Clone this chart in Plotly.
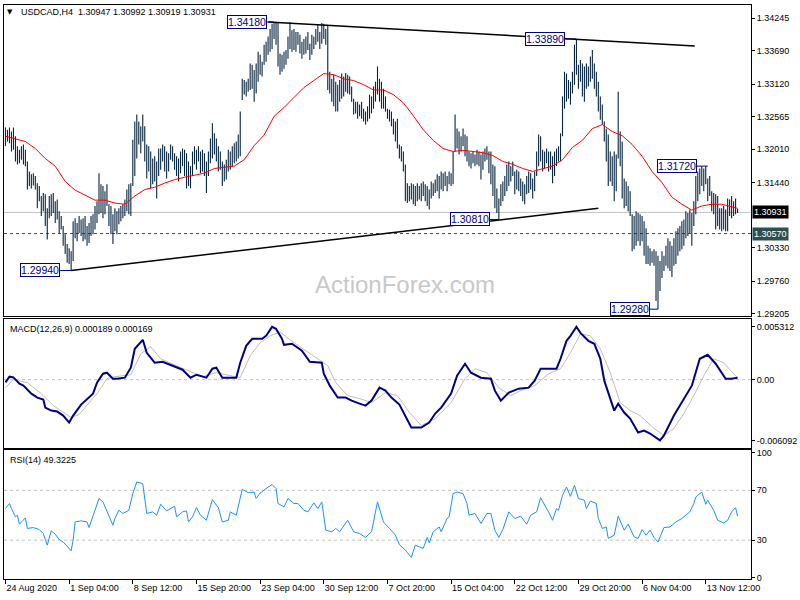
import plotly.graph_objects as go

# ---------------- data ----------------
highs = [
1.3238,1.3234,1.3238,1.3231,1.3238,1.3223,1.3206,1.3200,1.3206,1.3209,
1.3200,1.3180,1.3163,1.3158,1.3160,1.3155,1.3143,1.3138,1.3121,1.3126,
1.3124,1.3100,1.3121,1.3124,1.3126,1.3112,1.3115,1.3095,1.3087,1.3070,
1.3056,1.3039,1.3032,1.3027,1.3078,1.3083,1.3075,1.3087,1.3081,1.3083,
1.3087,1.3070,1.3075,1.3087,1.3090,1.3104,1.3112,1.3160,1.3141,1.3138,
1.3129,1.3141,1.3107,1.3104,1.3090,1.3100,1.3095,1.3100,1.3104,1.3107,
1.3115,1.3132,1.3141,1.3143,1.3217,1.3248,1.3260,1.3248,1.3240,1.3260,
1.3240,1.3209,1.3206,1.3197,1.3185,1.3189,1.3180,1.3202,1.3202,1.3209,
1.3206,1.3197,1.3194,1.3209,1.3206,1.3194,1.3189,1.3185,1.3197,1.3202,
1.3200,1.3194,1.3180,1.3172,1.3197,1.3206,1.3200,1.3206,1.3197,1.3200,
1.3194,1.3180,1.3197,1.3219,1.3245,1.3228,1.3219,1.3206,1.3197,1.3180,
1.3175,1.3183,1.3200,1.3197,1.3206,1.3211,1.3214,1.3226,1.3265,1.3321,
1.3319,1.3316,1.3321,1.3347,1.3345,1.3336,1.3347,1.3367,1.3362,1.3350,
1.3379,1.3384,1.3393,1.3406,1.3415,1.3418,1.3416,1.3416,1.3364,1.3362,
1.3367,1.3370,1.3393,1.3418,1.3404,1.3406,1.3401,1.3401,1.3396,1.3384,
1.3389,1.3393,1.3401,1.3381,1.3396,1.3393,1.3406,1.3413,1.3401,1.3416,
1.3415,1.3406,1.3413,1.3333,1.3321,1.3328,1.3316,1.3311,1.3319,1.3330,
1.3325,1.3331,1.3328,1.3325,1.3308,1.3287,1.3282,1.3282,1.3277,1.3282,
1.3270,1.3265,1.3274,1.3294,1.3291,1.3308,1.3316,1.3342,1.3321,1.3316,
1.3304,1.3291,1.3270,1.3268,1.3265,1.3253,1.3248,1.3253,1.3209,1.3206,
1.3197,1.3175,1.3143,1.3138,1.3143,1.3141,1.3138,1.3143,1.3138,1.3143,
1.3146,1.3141,1.3138,1.3132,1.3146,1.3143,1.3149,1.3158,1.3155,1.3163,
1.3160,1.3163,1.3155,1.3163,1.3160,1.3197,1.3260,1.3236,1.3231,1.3223,
1.3236,1.3226,1.3223,1.3197,1.3194,1.3197,1.3192,1.3200,1.3197,1.3192,
1.3197,1.3202,1.3206,1.3197,1.3197,1.3175,1.3172,1.3134,1.3117,1.3141,
1.3146,1.3155,1.3175,1.3180,1.3172,1.3180,1.3163,1.3166,1.3163,1.3151,
1.3146,1.3141,1.3155,1.3163,1.3160,1.3151,1.3163,1.3197,1.3226,1.3223,
1.3200,1.3197,1.3202,1.3197,1.3197,1.3189,1.3197,1.3202,1.3206,1.3228,
1.3291,1.3333,1.3330,1.3319,1.3316,1.3333,1.3379,1.3389,1.3345,1.3353,
1.3347,1.3342,1.3347,1.3342,1.3359,1.3370,1.3347,1.3333,1.3316,1.3291,
1.3277,1.3248,1.3236,1.3226,1.3197,1.3189,1.3197,1.3192,1.3299,1.3231,
1.3214,1.3151,1.3146,1.3138,1.3129,1.3090,1.3087,1.3095,1.3092,1.3090,
1.3087,1.3078,1.3066,1.3036,1.3032,1.3027,1.3030,1.3027,1.3019,1.3010,
1.3027,1.3019,1.3036,1.3049,1.3044,1.3036,1.3049,1.3061,1.3066,1.3070,
1.3078,1.3081,1.3095,1.3092,1.3098,1.3092,1.3112,1.3155,1.3163,1.3168,
1.3172,1.3168,1.3172,1.3151,1.3155,1.3129,1.3126,1.3124,1.3121,1.3100,
1.3100,1.3104,1.3098,1.3117,1.3115,1.3121,1.3112,1.3117,1.30992]

lows = [
1.3206,1.3214,1.3211,1.3197,1.3200,1.3180,1.3175,1.3177,1.3183,1.3175,
1.3172,1.3132,1.3138,1.3134,1.3139,1.3132,1.3100,1.3112,1.3087,1.3095,
1.3070,1.3047,1.3083,1.3087,1.3092,1.3075,1.3081,1.3058,1.3064,1.3036,
1.3022,1.3007,1.3005,1.2994,1.3010,1.3049,1.3044,1.3058,1.3053,1.3044,
1.3047,1.3036,1.3041,1.3053,1.3056,1.3064,1.3075,1.3090,1.3092,1.3083,
1.3090,1.3104,1.3070,1.3056,1.3039,1.3061,1.3056,1.3073,1.3078,1.3083,
1.3087,1.3095,1.3090,1.3087,1.3138,1.3155,1.3185,1.3209,1.3194,1.3214,
1.3180,1.3151,1.3163,1.3134,1.3141,1.3146,1.3117,1.3155,1.3166,1.3180,
1.3163,1.3151,1.3163,1.3183,1.3180,1.3166,1.3155,1.3146,1.3160,1.3172,
1.3155,1.3134,1.3138,1.3134,1.3155,1.3175,1.3166,1.3180,1.3160,1.3163,
1.3155,1.3126,1.3155,1.3177,1.3185,1.3192,1.3180,1.3163,1.3166,1.3138,
1.3146,1.3149,1.3163,1.3166,1.3172,1.3177,1.3180,1.3185,1.3189,1.3285,
1.3294,1.3291,1.3299,1.3302,1.3304,1.3282,1.3296,1.3316,1.3328,1.3325,
1.3345,1.3350,1.3362,1.3367,1.3372,1.3389,1.3379,1.3342,1.3328,1.3333,
1.3338,1.3345,1.3355,1.3372,1.3367,1.3370,1.3367,1.3379,1.3364,1.3355,
1.3362,1.3364,1.3370,1.3353,1.3362,1.3372,1.3379,1.3384,1.3372,1.3381,
1.3389,1.3379,1.3302,1.3296,1.3282,1.3274,1.3265,1.3265,1.3282,1.3287,
1.3291,1.3299,1.3296,1.3294,1.3282,1.3260,1.3262,1.3253,1.3257,1.3253,
1.3248,1.3243,1.3248,1.3253,1.3262,1.3270,1.3282,1.3294,1.3282,1.3270,
1.3270,1.3265,1.3253,1.3248,1.3240,1.3226,1.3214,1.3202,1.3185,1.3180,
1.3163,1.3112,1.3109,1.3112,1.3115,1.3107,1.3104,1.3112,1.3115,1.3112,
1.3121,1.3112,1.3104,1.3098,1.3117,1.3121,1.3126,1.3129,1.3117,1.3132,
1.3129,1.3138,1.3129,1.3141,1.3138,1.3141,1.3197,1.3202,1.3192,1.3197,
1.3206,1.3189,1.3180,1.3172,1.3168,1.3177,1.3172,1.3175,1.3172,1.3149,
1.3166,1.3180,1.3183,1.3160,1.3141,1.3121,1.3100,1.3092,1.3081,1.3104,
1.3112,1.3121,1.3129,1.3138,1.3146,1.3155,1.3124,1.3132,1.3129,1.3121,
1.3112,1.3107,1.3124,1.3126,1.3132,1.3117,1.3129,1.3155,1.3172,1.3180,
1.3163,1.3168,1.3177,1.3163,1.3166,1.3143,1.3155,1.3172,1.3180,1.3180,
1.3223,1.3270,1.3282,1.3287,1.3277,1.3296,1.3311,1.3328,1.3304,1.3316,
1.3291,1.3282,1.3304,1.3308,1.3316,1.3321,1.3304,1.3291,1.3265,1.3251,
1.3243,1.3214,1.3180,1.3138,1.3146,1.3138,1.3112,1.3129,1.3185,1.3172,
1.3117,1.3100,1.3104,1.3095,1.3087,1.3027,1.3030,1.3036,1.3044,1.3036,
1.3044,1.3019,1.3005,1.3005,1.3002,1.3007,1.3002,1.2942,1.2928,1.2959,
1.2981,1.2993,1.3002,1.2998,1.2993,1.2983,1.3002,1.3005,1.3019,1.3027,
1.3030,1.3036,1.3049,1.3053,1.3058,1.3036,1.3070,1.3090,1.3112,1.3124,
1.3138,1.3129,1.3141,1.3112,1.3121,1.3095,1.3090,1.3064,1.3070,1.3064,
1.3061,1.3064,1.3061,1.3061,1.3087,1.3083,1.3087,1.3090,1.30919]

ma_idx = [0,5,10,15,20,25,30,35,40,45,50,55,60,65,70,75,80,85,90,95,100,105,110,115,
          120,125,130,135,140,145,150,155,160,165,170,175,180,185,190,195,200,205,210,
          215,220,225,230,235,240,245,250,255,260,265,270,275,280,285,290,295,300,305,
          310,315,320,325,330,335,340,345,350,355,360,365,368]
ma_vals = [1.3223,1.3219,1.3214,1.3202,1.3185,1.3172,1.3146,1.3131,1.3122,1.3114,1.3114,
           1.3109,1.3107,1.3121,1.3132,1.3136,1.3143,1.3149,1.3153,1.3156,1.3160,1.3168,
           1.3170,1.3172,1.3183,1.3207,1.3225,1.3257,1.3272,1.3289,1.3306,1.3318,1.3330,
           1.3328,1.3321,1.3318,1.3311,1.3302,1.3302,1.3294,1.3280,1.3258,1.3234,1.3216,
           1.3202,1.3197,1.3199,1.3197,1.3195,1.3190,1.3180,1.3175,1.3168,1.3163,1.3168,
           1.3172,1.3183,1.3204,1.3216,1.3236,1.3243,1.3231,1.3224,1.3209,1.3189,1.3163,
           1.3144,1.3119,1.3107,1.3097,1.3104,1.3107,1.3107,1.3102,1.3100]

macd_idx = [0,2,4,7,9,13,16,19,20,23,26,29,32,34,38,41,44,46,49,51,54,56,60,63,65,69,71,75,
            79,84,89,93,96,101,104,106,109,113,116,118,121,124,129,131,134,136,139,140,144,
            149,153,159,160,163,167,171,174,178,181,184,188,191,194,198,201,204,209,213,216,
            219,224,227,231,234,239,244,246,249,253,258,263,266,269,274,277,279,282,284,287,
            289,293,296,299,301,304,306,308,311,314,318,321,324,329,331,336,341,345,349,353,
            357,362,365,368]
macd_main = [-0.00027,0.0003,0.00023,-0.0004,-0.0006,-0.0014,-0.0018,-0.0020,-0.0028,-0.0031,
             -0.0032,-0.0036,-0.0043,-0.0036,-0.0025,-0.0019,-0.0014,-0.0003,0.0006,0.0007,
             0.0001,0.0001,0.0002,0.0012,0.0031,0.0040,0.0027,0.0017,0.0018,0.0014,0.0010,
             0.0002,0.0005,0.0002,0.0011,0.0012,0.0002,0.0002,0.0002,0.0017,0.0034,0.0041,
             0.0041,0.0044,0.0053,0.0051,0.0041,0.0035,0.0036,0.0029,0.0018,0.0017,0.0006,
             -0.0006,-0.0018,-0.0018,-0.0021,-0.0024,-0.0026,-0.0021,-0.0008,-0.0011,-0.0018,
             -0.0025,-0.0036,-0.0048,-0.0048,-0.0043,-0.0034,-0.0028,-0.0014,0.0004,0.0016,
             0.0007,0.0002,0.0001,-0.0011,-0.0021,-0.0013,-0.0009,-0.0008,-0.0001,0.0011,
             0.0011,0.0011,0.0021,0.0039,0.0044,0.005312,0.0047,0.0039,0.0036,0.0021,-0.0001,
             -0.0019,-0.0031,-0.0024,-0.0033,-0.0039,-0.0053,-0.0051,-0.0054,-0.006092,-0.0056,
             -0.0036,-0.0019,-0.0006,0.0021,0.0025,0.0016,0.0001,0.0001,0.000189]

sig_idx = [0,4,11,18,24,33,37,41,46,51,55,63,68,73,78,86,93,99,106,113,118,123,128,133,138,
           143,149,156,162,166,172,178,184,191,197,203,209,216,224,231,236,242,248,254,259,
           266,273,279,284,289,294,299,304,309,314,319,326,331,336,341,346,351,356,361,366,368]
macd_signal = [-0.0008,0.0000,-0.0003,-0.0014,-0.0026,-0.0038,-0.0035,-0.0026,-0.0014,0.0001,
               0.0003,0.0005,0.0026,0.0033,0.0021,0.0014,0.0008,0.0003,0.0007,0.0004,0.0002,
               0.0024,0.0037,0.0044,0.0048,0.0040,0.0032,0.0022,0.0014,-0.0003,-0.0016,-0.0019,
               -0.0023,-0.0013,-0.0016,-0.0033,-0.0046,-0.0039,-0.0023,0.0001,0.0011,0.0007,
               -0.0008,-0.0016,-0.0011,-0.0006,0.0006,0.0011,0.0027,0.0046,0.0044,0.0031,0.0007,
               -0.0023,-0.0031,-0.0036,-0.0049,-0.0056,-0.0049,-0.0034,-0.0016,0.0004,0.0021,
               0.0017,0.0006,0.000169]

rsi_idx = [0,2,3,5,6,7,8,10,11,14,17,19,21,23,25,27,29,31,33,34,35,38,41,42,44,47,49,51,54,55,
           57,59,62,64,66,69,71,74,76,78,81,85,86,89,91,92,94,96,98,101,104,107,109,112,113,
           116,117,119,122,125,126,128,132,134,136,137,140,142,145,147,150,152,155,157,159,
           161,164,166,168,172,175,178,181,184,187,190,193,196,198,201,204,206,208,210,212,
           213,215,218,219,222,223,225,227,230,232,233,236,239,242,244,246,248,250,253,256,
           259,262,264,267,269,272,273,275,277,278,280,282,284,286,288,291,292,294,297,298,
           300,302,303,306,308,311,313,316,318,320,322,324,326,328,331,334,337,340,344,346,
           347,350,352,353,356,358,361,363,365,367,368]
rsi_vals = [55.4,59.4,55.4,48.7,50,42.8,44.6,47.8,39.4,40.1,38.5,35.3,26,37.5,34.8,30.5,28.6,
            24.6,21.5,30,44.6,45.5,44.6,40.1,50,63.4,60.7,52.7,42,47.4,54,51.4,54,67.4,76.7,
            75.4,51.4,52.7,50,58.8,53.5,57.2,48.7,52.7,53.5,44.6,48.7,56.1,50,46,62.5,56.1,
            44.6,46,52.7,50,56.7,70.8,68.2,68.6,63.4,67.8,72.6,74.6,71.4,59.4,56.7,63.4,59.4,
            59.4,54,52.7,59.9,55.4,60.7,38,36.7,39.4,36.7,46,36.7,35.3,32.2,36.7,60.7,44.6,
            39.4,34,26.4,22,16.2,26,24.6,23.4,32.2,27.8,36.7,40.6,36.7,47.4,48.7,67.4,68.6,
            67.4,59.4,50,51.4,43.4,51.4,51.4,38,32.2,38.5,52.7,47.4,49.2,42.8,50,52.7,64.1,
            55.4,52.7,46,55.4,54,66,72.6,65.2,74,63.4,62,55.4,61.4,59.4,47.4,39.4,40.6,31.4,
            34,49.2,38,42.8,32.6,31.4,38.5,34,38,32.2,28.6,40.1,40.6,44.6,47.4,52.7,59.4,64.6,
            68.6,58.8,62,54,46,43.8,46,52.7,56.1,49.3225]

tick_idx = [0,32,64,96,128,160,192,224,256,288,320,352]
tick_text = ["24 Aug 2020","1 Sep 04:00","8 Sep 12:00","15 Sep 20:00","23 Sep 04:00",
             "30 Sep 12:00","7 Oct 20:00","15 Oct 04:00","22 Oct 12:00","29 Oct 20:00",
             "6 Nov 04:00","13 Nov 12:00"]

price_ticks = [1.34245,1.33690,1.33120,1.32565,1.32010,1.31440,1.30330,1.29760,1.29205]

upper_line_idx = [132, 346.5]
upper_line_px = [1.3418, 1.3377]
lower_line_idx = [33, 298]
lower_line_px = [1.2994, 1.3100]

# price labels: (text, price, label right-edge bar, bar touched)
pt_labels = [("1.34180", 1.34180, 131.5, 135),
             ("1.33890", 1.33890, 281.5, 287),
             ("1.29940", 1.29940, 27.5, 33),
             ("1.30810", 1.30810, 243.5, 248),
             ("1.29280", 1.29280, 324.0, 328),
             ("1.31720", 1.31720, 347.5, 353)]

last_price = 1.30931
level_price = 1.30570

# ---------------- figure ----------------
FONT = "Liberation Sans"
BAR_COL = "#062540"

bx, by = [], []
for i, (h, l) in enumerate(zip(highs, lows)):
    bx += [i, i, None]
    by += [l, h, None]

fig = go.Figure()
fig.add_trace(go.Scatter(x=bx, y=by, mode="lines", line=dict(color=BAR_COL, width=1.1),
                         xaxis="x", yaxis="y", hoverinfo="skip"))
fig.add_trace(go.Scatter(x=ma_idx, y=ma_vals, mode="lines", line=dict(color="#FF0000", width=1),
                         xaxis="x", yaxis="y", hoverinfo="skip"))
fig.add_trace(go.Scatter(x=upper_line_idx, y=upper_line_px, mode="lines",
                         line=dict(color="black", width=1.5), xaxis="x", yaxis="y"))
fig.add_trace(go.Scatter(x=lower_line_idx, y=lower_line_px, mode="lines",
                         line=dict(color="black", width=1.5), xaxis="x", yaxis="y"))
for txt, p, lx, bi in pt_labels:
    fig.add_trace(go.Scatter(x=[lx, bi], y=[p, p], mode="lines",
                             line=dict(color="#000080", width=1), xaxis="x", yaxis="y"))

fig.add_trace(go.Scatter(x=sig_idx, y=macd_signal, mode="lines",
                         line=dict(color="#BDBDBD", width=1), xaxis="x2", yaxis="y2"))
fig.add_trace(go.Scatter(x=macd_idx, y=macd_main, mode="lines",
                         line=dict(color="#000080", width=2), xaxis="x2", yaxis="y2"))
fig.add_trace(go.Scatter(x=rsi_idx, y=rsi_vals, mode="lines",
                         line=dict(color="#1E90FF", width=1), xaxis="x3", yaxis="y3"))

XR = [-0.75, 374.75]
axcommon = dict(showline=True, mirror=True, linecolor="black", linewidth=1,
                showgrid=False, zeroline=False)
tf = dict(family=FONT, size=9, color="black")

fig.update_layout(
    width=800, height=600, paper_bgcolor="white", plot_bgcolor="white",
    margin=dict(l=3, r=46, t=3, b=20), showlegend=False,
    xaxis=dict(domain=[0, 1], range=XR, anchor="y", showticklabels=False, ticks="", **axcommon),
    yaxis=dict(domain=[0.4593, 1], range=[1.29165, 1.34469], side="right", anchor="x",
               tickvals=price_ticks, ticktext=[f"{v:.5f}" for v in price_ticks],
               ticks="outside", ticklen=3, tickcolor="black", tickfont=tf, **axcommon),
    xaxis2=dict(domain=[0, 1], range=XR, anchor="y2", showticklabels=False, ticks="", **axcommon),
    yaxis2=dict(domain=[0.2288, 0.4541], range=[-0.0069, 0.0061], side="right", anchor="x2",
                tickvals=[0.005312, 0, -0.006092], ticktext=["0.005312", "0.00", "-0.006092"],
                ticks="outside", ticklen=3, tickcolor="black", tickfont=tf, **axcommon),
    xaxis3=dict(domain=[0, 1], range=XR, anchor="y3", tickvals=tick_idx, ticktext=tick_text,
                ticks="outside", ticklen=4, tickcolor="black", tickfont=tf,
                ticklabelposition="outside right", **axcommon),
    yaxis3=dict(domain=[0.0017, 0.2253], range=[-1.2, 102], side="right", anchor="x3",
                tickvals=[100, 70, 30, 0], ticktext=["100", "70", "30", "0"],
                ticks="outside", ticklen=3, tickcolor="black", tickfont=tf, **axcommon),
)

shapes = [
    dict(type="line", xref="x domain", x0=0, x1=1, yref="y", y0=last_price, y1=last_price,
         line=dict(color="#C0C0C0", width=1), layer="below"),
    dict(type="line", xref="x domain", x0=0, x1=1, yref="y", y0=level_price, y1=level_price,
         line=dict(color="#2F4F4F", width=1, dash="3px,3px"), layer="below"),
    dict(type="line", xref="x2 domain", x0=0, x1=1, yref="y2", y0=0, y1=0,
         line=dict(color="#C0C0C0", width=1, dash="3px,3px"), layer="below"),
    dict(type="line", xref="x3 domain", x0=0, x1=1, yref="y3", y0=70, y1=70,
         line=dict(color="#C0C0C0", width=1, dash="3px,3px"), layer="below"),
    dict(type="line", xref="x3 domain", x0=0, x1=1, yref="y3", y0=30, y1=30,
         line=dict(color="#C0C0C0", width=1, dash="3px,3px"), layer="below"),
]
fig.update_layout(shapes=shapes)

ann = []
for txt, p, lx, bi in pt_labels:
    ann.append(dict(x=lx, y=p, xref="x", yref="y", text=txt, showarrow=False,
                    xanchor="right", yanchor="middle",
                    font=dict(family=FONT, size=10.5, color="#000080"),
                    bgcolor="white", bordercolor="#000080", borderwidth=1, borderpad=0))
ann += [
    dict(x=1, y=last_price, xref="paper", yref="y", text="1.30931", showarrow=False,
         xanchor="left", yanchor="middle", xshift=1, font=dict(family=FONT, size=9, color="white"),
         bgcolor="black", borderpad=1),
    dict(x=1, y=level_price, xref="paper", yref="y", text="1.30570", showarrow=False,
         xanchor="left", yanchor="middle", xshift=1, font=dict(family=FONT, size=9, color="white"),
         bgcolor="#2F4F4F", borderpad=1),
    dict(x=0.0075, y=0.9879, xref="paper", yref="paper", text="▼", showarrow=False,
         xanchor="center", yanchor="middle", font=dict(family="DejaVu Sans", size=7, color="black")),
    dict(x=0.0200, y=0.9879, xref="paper", yref="paper",
         text="USDCAD,H4\u00a0\u00a01.30947 1.30992 1.30919 1.30931", showarrow=False,
         xanchor="left", yanchor="middle", font=dict(family=FONT, size=9, color="black")),
    dict(x=0.0053, y=0.4367, xref="paper", yref="paper", text="MACD(12,26,9) 0.000189 0.000169",
         showarrow=False, xanchor="left", yanchor="middle", font=dict(family=FONT, size=9, color="black")),
    dict(x=0.0053, y=0.2080, xref="paper", yref="paper", text="RSI(14) 49.3225",
         showarrow=False, xanchor="left", yanchor="middle", font=dict(family=FONT, size=9, color="black")),
    dict(x=0.5366, y=0.5147, xref="paper", yref="paper", text="ActionForex.com",
         showarrow=False, xanchor="center", yanchor="middle",
         font=dict(family=FONT, size=24, color="#C8C8C8")),
]
fig.update_layout(annotations=ann)

fig.write_html("out.html", config={"displayModeBar": False},
               post_script="document.body.style.margin='0px';document.body.style.overflow='hidden';")
